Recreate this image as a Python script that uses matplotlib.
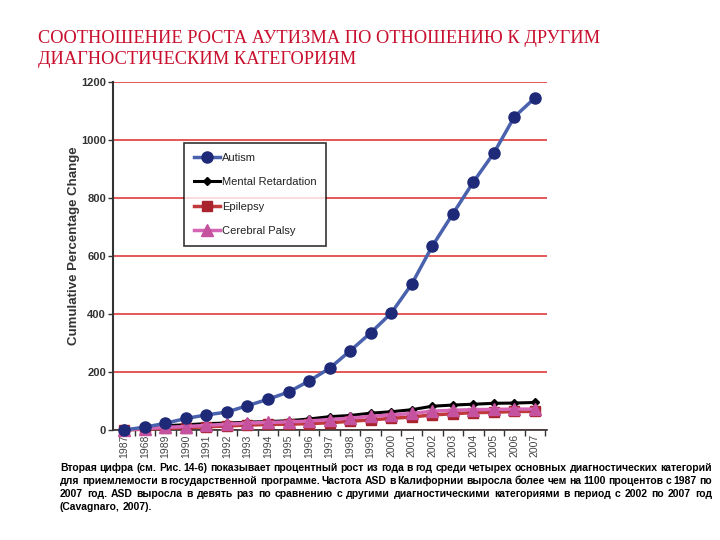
import matplotlib.pyplot as plt
from matplotlib.ticker import FixedLocator

years = list(range(1987, 2008))
year_labels = ["1987", "1968", "1989", "1990", "1991", "1992", "1993", "1994", "1995", "1996",
               "1997", "1998", "1999", "2000", "2001", "2002", "2003", "2004", "2005", "2006", "2007"]

autism = [0, 10, 23, 40, 52, 62, 84, 106, 131, 169, 213, 273, 335, 403, 503, 634, 745, 855, 955, 1080, 1145]
mental_retardation = [0, 5, 15, 18, 22, 24, 27, 29, 32, 38, 46, 50, 58, 63, 70, 82, 86, 89, 92, 93, 95]
epilepsy = [0, 3, 6, 8, 11, 14, 17, 19, 20, 22, 25, 30, 35, 40, 45, 52, 56, 60, 61, 64, 64]
cerebral_palsy = [0, 5, 9, 12, 16, 20, 24, 26, 28, 31, 36, 41, 47, 52, 57, 65, 68, 70, 71, 72, 72]

title = "СООТНОШЕНИЕ РОСТА АУТИЗМА ПО ОТНОШЕНИЮ К ДРУГИМ\nДИАГНОСТИЧЕСКИМ КАТЕГОРИЯМ"
caption = [
    "Вторая цифра (см. Рис. 14-6) показывает процентный рост из года в год среди четырех основных диагностических категорий",
    "для приемлемости в государственной программе. Частота ASD в Калифорнии выросла более чем на 1100 процентов с 1987 по",
    "2007 год. ASD выросла в девять раз по сравнению с другими диагностическими категориями в период с 2002 по 2007 год",
    "(Cavagnaro, 2007).",
]

plt.rcParams['font.family'] = ['Liberation Sans', 'DejaVu Sans']

W, H = 720, 540
fig = plt.figure(figsize=(7.2, 5.4), dpi=100)
ax = fig.add_axes([0.157, 0.2037, 0.603, 0.6444])

ax.plot(years, autism, color="#4a62ad", lw=2.5, marker="o", ms=8,
        mfc="#1e2a78", mec="#1e2a78", label="Autism", clip_on=False, zorder=5)
ax.plot(years, mental_retardation, color="black", lw=2.2, marker="D", ms=4.5,
        mfc="black", mec="black", label="Mental Retardation", clip_on=False, zorder=3)
ax.plot(years, epilepsy, color="#c0393b", lw=2.5, marker="s", ms=7,
        mfc="#a8232b", mec="#a8232b", label="Epilepsy", clip_on=False, zorder=3)
ax.plot(years, cerebral_palsy, color="#d565b5", lw=2.5, marker="^", ms=8,
        mfc="#c4529f", mec="#c4529f", label="Cerebral Palsy", clip_on=False, zorder=4)

ax.set_xlim(1986.45, 2007.6)
ax.set_ylim(0, 1200)
ax.set_yticks(range(0, 1201, 200))
ax.yaxis.grid(True, color="#e03a3a", lw=1.2)
ax.set_axisbelow(True)
ax.set_xticks(years)
ax.set_xticklabels(year_labels, rotation=90, fontsize=7.5, color="#444444")
ax.xaxis.set_minor_locator(FixedLocator([y + 0.5 for y in years]))
ax.tick_params(axis="x", which="major", length=0, pad=3)
ax.tick_params(axis="x", which="minor", length=4, width=1, color="#333333")
ax.tick_params(axis="y", length=3.5, width=1, color="#333333", labelsize=8, labelcolor="#333333", pad=1.5)
for lbl in ax.get_yticklabels():
    lbl.set_fontweight("bold")

for side in ["top", "right"]:
    ax.spines[side].set_visible(False)
ax.spines["left"].set_color("#333333")
ax.spines["left"].set_linewidth(1.5)
ax.spines["bottom"].set_color("#333333")
ax.spines["bottom"].set_linewidth(1.2)

ax.set_ylabel("Cumulative Percentage Change", fontsize=9.5, fontweight="bold", color="#333333")
ax.yaxis.set_label_coords(-0.075, 0.53)

leg = ax.legend(loc="upper left", bbox_to_anchor=(0.1636, 0.825), fontsize=8, frameon=True,
                fancybox=False, edgecolor="black", handlelength=2.35, labelspacing=1.3,
                borderpad=0.9, handletextpad=0.15, borderaxespad=0)
leg.get_frame().set_linewidth(1.2)
for t in leg.get_texts():
    t.set_color("#222222")

fig.text(38 / W, 1 - 30 / H, title, color="#c8102e", fontsize=13.2, family="Liberation Serif",
         va="top", ha="left", linespacing=1.3)

# justified caption, word by word
renderer = fig.canvas.get_renderer()
cap_kw = dict(fontsize=7.5, fontweight="bold", family="Liberation Sans", va="center", ha="left")


def word_width(word):
    t = fig.text(0, 0, word, **cap_kw)
    w = t.get_window_extent(renderer).width
    t.remove()
    return w


x_left, x_right = 60, 712
space = word_width("a b") - word_width("ab")
for i, line in enumerate(caption):
    words = line.split()
    widths = [word_width(w) for w in words]
    y = 1 - (468 + i * 13) / H
    if i < len(caption) - 1 and len(words) > 1:
        gap = (x_right - x_left - sum(widths)) / (len(words) - 1)
    else:
        gap = space
    x = x_left
    for w, wd in zip(words, widths):
        fig.text(x / W, y, w, **cap_kw)
        x += wd + gap

fig.savefig("out.png", dpi=100)
